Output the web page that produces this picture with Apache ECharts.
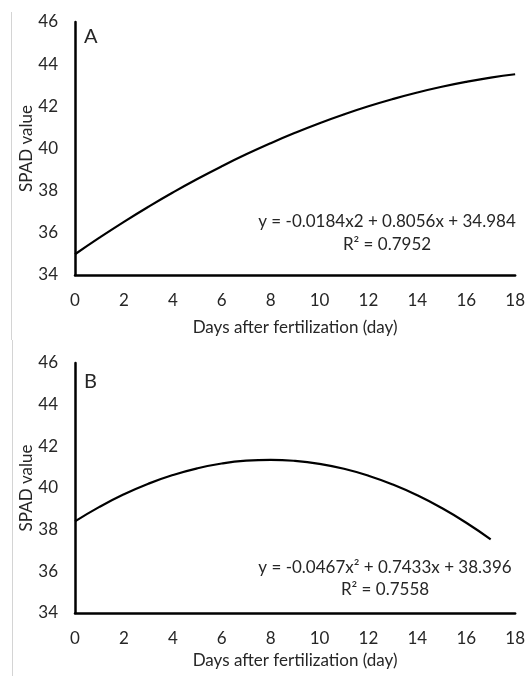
<!DOCTYPE html>
<html><head><meta charset="utf-8">
<script src="https://cdn.jsdelivr.net/npm/echarts@6/dist/echarts.min.js"></script>
<style>html,body{margin:0;padding:0;background:#fff}#c{width:528px;height:676px}</style>
</head><body><div id="c"></div>
<script>
var daysA = [0,1,2,3,4,5,6,7,8,9,10,11,12,13,14,15,16,17,18];
var spadA = [34.984,35.771,36.522,37.235,37.912,38.552,39.155,39.722,40.251,40.744,41.200,41.619,42.002,42.347,42.656,42.928,43.163,43.362,43.523];
var daysB = [0,1,2,3,4,5,6,7,8,9,10,11,12,13,14,15,16,17];
var spadB = [38.396,39.093,39.696,40.206,40.622,40.945,41.175,41.311,41.354,41.303,41.159,40.922,40.591,40.167,39.649,39.038,38.334,37.536];
var xTicks = [0,2,4,6,8,10,12,14,16,18];
var yTicks = [34,36,38,40,42,44,46];
var eqA = ['y = -0.0184x2 + 0.8056x + 34.984', 'R² = 0.7952'];
var eqB = ['y = -0.0467x² + 0.7433x + 38.396', 'R² = 0.7558'];
var panelLabels = ['A','B'];
var xTitle = 'Days after fertilization (day)';
var yTitle = 'SPAD value';

var FONT = 'Lato';
var TXT = '#262626';
function pairs(xs, ys){ return xs.map(function(x,i){return [x, ys[i]];}); }
function xAxis(idx){
  return {type:'value', gridIndex:idx, min:xTicks[0], max:xTicks[xTicks.length-1], interval:2,
    axisLine:{show:true, onZero:false, lineStyle:{color:'#000', width:2.5}},
    axisTick:{show:false}, splitLine:{show:false},
    axisLabel:{color:TXT, fontFamily:FONT, fontSize:17, margin:17},
    name:xTitle, nameLocation:'middle', nameGap: idx===0?44:39, nameMoveOverlap:false,
    nameTextStyle:{color:TXT, fontFamily:FONT, fontSize:17}};
}
function yAxis(idx){
  return {type:'value', gridIndex:idx, min:yTicks[0], max:yTicks[yTicks.length-1], interval:2,
    axisLine:{show:true, onZero:false, lineStyle:{color:'#000', width:2.5}},
    axisTick:{show:false}, splitLine:{show:false},
    axisLabel:{color:TXT, fontFamily:FONT, fontSize:17, margin:17},
    name:yTitle, nameLocation:'middle', nameGap:40, nameRotate:90, nameMoveOverlap:false,
    nameTextStyle:{color:TXT, fontFamily:FONT, fontSize:17}};
}
var chart = echarts.init(document.getElementById('c'), null, {renderer:'canvas'});
var txtStyle = function(t, x, y){ return {type:'text', x:x, y:y,
  style:{text:t, fill:TXT, font:'17px '+FONT, textAlign:'center', textVerticalAlign:'middle'}}; };
chart.setOption({
  animation:false,
  grid:[{left:75, top:22, right:10, height:253},{left:75, top:363, right:10, height:250}],
  xAxis:[xAxis(0), xAxis(1)],
  yAxis:[yAxis(0), yAxis(1)],
  series:[
    {type:'line', xAxisIndex:0, yAxisIndex:0, data:pairs(daysA, spadA), smooth:true, showSymbol:false,
      lineStyle:{color:'#000', width:2.2}},
    {type:'line', xAxisIndex:1, yAxisIndex:1, data:pairs(daysB, spadB), smooth:true, showSymbol:false,
      lineStyle:{color:'#000', width:2.2}}
  ],
  graphic:[
    {type:'line', shape:{x1:11.5,y1:12,x2:11.5,y2:340}, style:{stroke:'#d4d4d4', lineWidth:1}},
    {type:'line', shape:{x1:12.5,y1:340,x2:12.5,y2:676}, style:{stroke:'#d4d4d4', lineWidth:1}},
    {type:'text', x:84, y:37, style:{text:panelLabels[0], fill:TXT, font:'20px '+FONT, textAlign:'left', textVerticalAlign:'middle'}},
    {type:'text', x:84, y:382, style:{text:panelLabels[1], fill:TXT, font:'20px '+FONT, textAlign:'left', textVerticalAlign:'middle'}},
    txtStyle(eqA[0], 387, 222), txtStyle(eqA[1], 387, 245),
    txtStyle(eqB[0], 385, 568), txtStyle(eqB[1], 385, 590)
  ]
});
</script></body></html>
